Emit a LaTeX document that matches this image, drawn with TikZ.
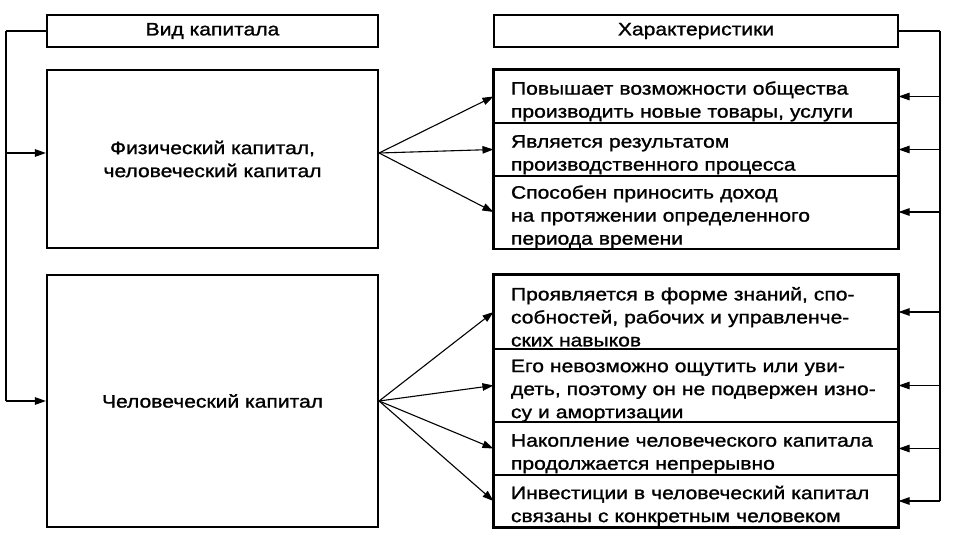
\documentclass[tikz,border=0pt]{standalone}
\usepackage{fontspec}
\setmainfont{Liberation Sans}[FakeStretch=1.17,FakeBold=1.2]
\usetikzlibrary{arrows.meta}

\begin{document}
\begin{tikzpicture}[x=1pt, y=-1pt,
  txt/.style={font=\fontsize{18}{23}\selectfont},
  headbox/.style={rectangle, draw, line width=2.2pt, minimum width=#1,
    minimum height=32pt, inner sep=0pt, txt},
  capbox/.style={rectangle, draw, line width=2.2pt, minimum width=331pt,
    minimum height=#1, inner sep=0pt, align=center, txt},
  featbox/.style={rectangle, draw, line width=1.1pt, minimum width=404pt,
    minimum height=#1, text width=370pt, inner xsep=17pt, inner ysep=0pt,
    align=left, txt, execute at begin node={\rule{0pt}{23pt}}},
  arr/.style={-{Triangle[length=11pt,width=7.5pt]}, line width=1.1pt},
  link/.style={line width=1.1pt},
  stub/.style={line width=2.2pt}
]
\fill[white] (0,0) rectangle (960,540);
\useasboundingbox (0,0) rectangle (960,540);

% headers
\node[headbox=331pt] (lhead) at (212.5,31) {Вид капитала};
\node[headbox=404pt] (rhead) at (696,31) {Характеристики};

% kinds of capital
\node[capbox=178pt] (lbox1) at (212.5,159) {Физический капитал,\\человеческий капитал};
\node[capbox=252pt] (lbox2) at (212.5,401) {Человеческий капитал};
\coordinate (lin) at ([yshift=6pt]lbox1.west);
\coordinate (lout) at ([yshift=6pt]lbox1.east);

% characteristics
\node[featbox=53pt] (r1) at (696,96.5) {Повышает возможности общества\\производить новые товары, услуги};
\node[featbox=53pt] (r2) at (696,149.5) {Является результатом\\производственного процесса};
\node[featbox=72pt] (r3) at (696,212) {Способен приносить доход\\на протяжении определенного\\периода времени};
\node[featbox=74pt] (r4) at (696,312) {Проявляется в форме знаний, спо-\\собностей, рабочих и управленче-\\ских навыков};
\node[featbox=73pt] (r5) at (696,385.5) {Его невозможно ощутить или уви-\\деть, поэтому он не подвержен изно-\\су и амортизации};
\node[featbox=53pt] (r6) at (696,448.5) {Накопление человеческого капитала\\продолжается непрерывно};
\node[featbox=52pt] (r7) at (696,501) {Инвестиции в человеческий капитал\\связаны с конкретным человеком};

\draw[stub] (r1.north west) rectangle (r3.south east);
\draw[stub] (r4.north west) rectangle (r7.south east);

% left rail
\coordinate (ltop) at (6,31);
\draw[stub] (lhead.west) -- (ltop);
\draw[link] (ltop) -- (ltop |- lbox2.west);
\draw[arr] (ltop |- lin) -- (lin);
\draw[arr] (ltop |- lbox2.west) -- (lbox2.west);

% right rail
\coordinate (rtop) at (940,31);
\draw[stub] (rhead.east) -- (rtop);
\draw[link] (rtop) -- (rtop |- r7.east);
\foreach \b in {r1,r2,r3,r4,r5,r6,r7}
  \draw[arr] (rtop |- \b.east) -- (\b.east);

% fans
\foreach \b in {r1,r2,r3}
  \draw[arr] (lout) -- (\b.west);
\foreach \b in {r4,r5,r6,r7}
  \draw[arr] (lbox2.east) -- (\b.west);

\end{tikzpicture}
\end{document}
